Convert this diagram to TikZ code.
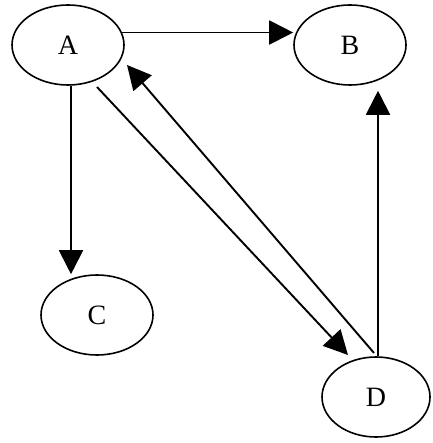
\documentclass[tikz,border=0pt]{standalone}
\usepackage{fontspec}
\setmainfont{Liberation Serif}
\usetikzlibrary{shapes.geometric,arrows.meta,calc}
\tikzset{
  vert/.style={draw=black, line width=1.6pt, ellipse, minimum width=112pt, minimum height=80pt, inner sep=0pt, font=\fontsize{28}{28}\selectfont},
  edge/.style={draw=black, line width=1.9pt, -{Triangle[length=24pt,width=24pt]}}
}
\newcommand{\vlab}[1]{\raisebox{-7pt}{#1}\hspace{10pt}}
\begin{document}
\begin{tikzpicture}[x=1pt,y=-1pt]
\useasboundingbox[fill=white] (0,0) rectangle (432,443);
\node[vert] (A) at (68,45) {\vlab{A}};
\node[vert] (B) at (350,45) {\vlab{B}};
\node[vert] (C) at (97,315) {\vlab{C}};
\node[vert, minimum width=108pt] (D) at (376,397) {\vlab{D}};
\draw[edge] (A.13) -- (B.west |- A.13);
\draw[edge] ([xshift=3pt]A.south) -- ([xshift=3pt]A.south |- C.north);
\draw[edge, shorten >=5pt] ([xshift=2pt]D.north) -- ([xshift=2pt]D.north |- B.south);
\draw[edge] ($(A)+(29,42)$) -- ($(D)+(-28,-42)$);
\draw[edge] ($(D)+(-2,-44)$) -- ($(A)+(59,20)$);
\end{tikzpicture}
\end{document}
